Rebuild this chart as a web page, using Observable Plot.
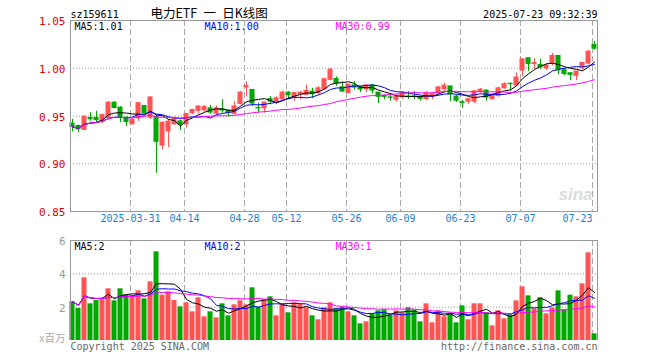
<!DOCTYPE html>
<html><head><meta charset="utf-8">
<script src="https://cdn.jsdelivr.net/npm/d3@7"></script>
<script src="https://cdn.jsdelivr.net/npm/@observablehq/plot@0.6"></script>
<style>
body{margin:0;background:#fff}
#wrap{position:relative;width:660px;height:360px;overflow:hidden;background:#fff}
#price,#vol{position:absolute;left:0}
#price{top:0}
#vol{top:232px}
</style></head><body>
<div id="wrap"><div id="price"></div><div id="vol"></div></div>
<script>
// ---- data ----
const open = [0.942,0.9396,0.9354,0.948,0.948,0.9445,0.948,0.9639,0.9587,0.9483,
0.9413,0.9476,0.9604,0.9483,0.9486,0.919,0.9337,0.9413,0.9444,0.9413,
0.9528,0.9554,0.9558,0.958,0.9525,0.9571,0.9554,0.9522,0.9627,0.980,
0.9773,0.9585,0.958,0.9676,0.964,0.9676,0.9745,0.970,0.9728,0.9721,
0.9756,0.9738,0.978,0.9878,0.9888,0.980,0.9741,0.982,0.9805,0.978,
0.982,0.9745,0.971,0.9695,0.9669,0.970,0.9703,0.9705,0.969,0.9676,
0.9704,0.9738,0.978,0.981,0.9704,0.9644,0.9648,0.965,0.9755,0.9766,
0.9676,0.971,0.979,0.9838,0.982,0.9976,1.0105,1.0045,1.0035,1.0,
1.0045,1.0129,0.998,0.9948,0.992,1.001,1.005,1.0244];
const high = [0.9465,0.9406,0.950,0.9535,0.9549,0.952,0.9653,0.9653,0.9597,0.9493,
0.9469,0.9635,0.9604,0.9701,0.9507,0.9437,0.9465,0.949,0.9458,0.9528,
0.957,0.9605,0.961,0.9612,0.9605,0.967,0.9565,0.965,0.9756,0.986,
0.9773,0.9634,0.9645,0.9704,0.970,0.976,0.9756,0.9745,0.9756,0.9824,
0.979,0.9808,0.9895,1.000,0.991,0.986,0.983,0.986,0.981,0.9826,
0.983,0.9745,0.9715,0.973,0.9721,0.9756,0.9756,0.9756,0.9707,0.9756,
0.9738,0.9808,0.9843,0.981,0.9721,0.9662,0.9686,0.9766,0.9788,0.9773,
0.9735,0.980,0.9847,0.9843,0.995,1.0094,1.0105,1.010,1.0094,1.005,
1.0157,1.0129,0.9997,0.9955,0.9965,1.0055,1.0185,1.028];
const low = [0.9333,0.9326,0.935,0.9444,0.9424,0.942,0.9458,0.9576,0.943,0.9389,
0.9406,0.9444,0.9521,0.9465,0.890,0.9147,0.917,0.9406,0.9347,0.9375,
0.9514,0.952,0.954,0.952,0.9505,0.953,0.9487,0.951,0.9616,0.970,
0.960,0.953,0.953,0.9617,0.962,0.966,0.967,0.9655,0.967,0.9714,
0.968,0.9721,0.9773,0.987,0.981,0.9745,0.973,0.977,0.9745,0.9745,
0.973,0.963,0.967,0.9655,0.9645,0.9675,0.9675,0.967,0.9655,0.966,
0.967,0.9721,0.9756,0.9651,0.964,0.958,0.962,0.963,0.9738,0.9655,
0.9669,0.9696,0.978,0.976,0.981,0.991,0.9965,0.999,0.999,0.9976,
1.0024,0.993,0.992,0.987,0.987,0.9976,1.0035,1.019];
const close = [0.9385,0.9361,0.9493,0.9465,0.9458,0.951,0.9639,0.9583,0.9483,0.9437,
0.9462,0.9635,0.9528,0.9694,0.9229,0.943,0.944,0.9469,0.941,0.9521,
0.9563,0.960,0.9595,0.9536,0.958,0.9557,0.953,0.960,0.9745,0.9815,
0.963,0.958,0.964,0.9651,0.9686,0.9745,0.9717,0.974,0.9745,0.9763,
0.9728,0.979,0.9885,0.9983,0.9839,0.9756,0.9829,0.9798,0.9777,0.982,
0.9766,0.970,0.970,0.969,0.9703,0.9738,0.9697,0.9697,0.968,0.9738,
0.9728,0.980,0.9818,0.9728,0.966,0.9637,0.9676,0.9758,0.9775,0.9693,
0.972,0.979,0.9833,0.9833,0.9903,1.0094,1.0045,1.0055,1.001,1.0024,
1.0129,0.9976,0.994,0.993,0.9965,1.0055,1.0174,1.0205];
const volume = [2.32,1.92,3.76,2.2,2.4,2.44,3.1,2.38,3.1,2.74,
2.7,2.98,2.5,3.52,5.32,2.72,2.92,2.4,2.02,2.26,
1.72,2.56,1.42,1.72,1.36,2.2,1.48,2.14,2.38,2.14,
3.16,2.0,2.44,2.62,1.48,2.18,1.66,2.26,2.18,1.96,
1.48,1.24,1.96,2.26,1.9,2.0,1.72,1.48,1.0,1.12,
1.6,1.78,1.84,1.5,1.78,1.66,1.96,1.84,1.12,2.2,
1.06,1.78,1.42,1.6,1.06,2.08,1.24,2.2,2.2,1.66,
0.88,1.78,1.3,1.54,2.38,3.22,2.68,1.9,2.56,1.6,
1.96,2.98,1.84,2.72,2.62,3.4,5.26,0.4];
const dateTickIndex = [10,19,29,36,46,55,65,75,87];
const dateTickLabels = ["2025-03-31","04-14","04-28","05-12","05-26","06-09","06-23","07-07","07-23"];
const priceTicks = [0.85,0.90,0.95,1.00,1.05];
const priceGrid = [0.90,0.95,1.00];
const volTicks = [2,4,6];
const volGrid = [2,4];
const maPeriods = [5,10,30];
const maColors = ["#000000","#0000ff","#ff00ff"];
const priceLegend = ["MA5:1.01","MA10:1.00","MA30:0.99"];
const volLegend = ["MA5:2","MA10:2","MA30:1"];
const code = "sz159611";
const title = "电力ETF\u2002一\u2002日K线图";
const stamp = "2025-07-23 09:32:39";

// ---- build ----
const UP = "#ff5454", DOWN = "#00a800";
const rows = close.map((c,i)=>({i, o:open[i], h:high[i], l:low[i], c, v:volume[i], up: c >= open[i]}));
const col = d => d.up ? UP : DOWN;
function ma(arr, n){ return arr.map((_,i)=>({i, v:d3.mean(arr.slice(Math.max(0,i-n+1), i+1))})); }
const mono = "DejaVu Sans Mono";
const xDom = [-1/3, 87.5];
const ticks = dateTickIndex.map((i,k)=>({i, label: dateTickLabels[k]}));
const legendDx = [4,134,265];

const priceMA = maPeriods.map(n=>ma(close,n));
const volMA = maPeriods.map(n=>ma(volume,n));

const price = Plot.plot({
  width:660, height:232, marginLeft:70, marginRight:63, marginTop:20, marginBottom:21,
  style:{fontFamily:mono, fontSize:"10px", background:"transparent", overflow:"visible"},
  x:{domain:xDom, axis:null},
  y:{domain:[0.85,1.05], axis:null},
  marks:[
    Plot.ruleY(priceGrid, {stroke:"#999", strokeDasharray:"1,2"}),
    Plot.ruleX(ticks, {x:d=>d.i-1/3, stroke:"#aaa", strokeDasharray:"6,3"}),
    Plot.text(["sina"], {frameAnchor:"bottom-right", textAnchor:"end", lineAnchor:"bottom", dx:-5, dy:-12, fill:"#dcdcdc", fontSize:17, fontStyle:"italic", fontWeight:"bold", fontFamily:"Liberation Sans"}),
    Plot.ruleX(rows, {x:"i", y1:"l", y2:"h", stroke:col}),
    Plot.rect(rows, {x1:d=>d.i-0.42, x2:d=>d.i+0.42, y1:"o", y2:"c", fill:col, insetTop:-0.5, insetBottom:-0.5}),
    ...priceMA.map((s,k)=>Plot.line(s, {x:"i", y:"v", stroke:maColors[k], strokeWidth:1})),
    Plot.frame({stroke:"#999"}),
    Plot.text(priceTicks, {y:d=>d, frameAnchor:"left", textAnchor:"end", dx:-5, dy:1, text:d=>d3.format(".2f")(d), fill:"#e00000", fontSize:11}),
    Plot.text(ticks.slice(0,-1), {x:d=>d.i-1/3, frameAnchor:"bottom", dy:10, text:"label", fill:"#1a7fd4"}),
    Plot.text(ticks.slice(-1), {x:d=>d.i-1/3, frameAnchor:"bottom", textAnchor:"end", dy:10, text:"label", fill:"#1a7fd4"}),
    Plot.text([code], {frameAnchor:"top-left", textAnchor:"start", lineAnchor:"bottom", dy:-3, fill:"#000"}),
    Plot.text([title], {frameAnchor:"top-left", textAnchor:"start", lineAnchor:"bottom", dx:80, dy:-2.5, fill:"#000", fontSize:12.5, fontFamily:"Noto Sans CJK SC"}),
    Plot.text([stamp], {frameAnchor:"top-right", textAnchor:"end", lineAnchor:"bottom", dy:-3, fill:"#000"}),
    ...priceLegend.map((t,k)=>Plot.text([t], {frameAnchor:"top-left", textAnchor:"start", lineAnchor:"bottom", dx:legendDx[k], dy:9, fill:maColors[k]}))
  ]
});
document.getElementById("price").appendChild(price);

const vol = Plot.plot({
  width:660, height:128, marginLeft:70, marginRight:63, marginTop:8, marginBottom:20,
  style:{fontFamily:mono, fontSize:"10px", background:"transparent", overflow:"visible"},
  x:{domain:xDom, axis:null},
  y:{domain:[0,6], axis:null},
  marks:[
    Plot.ruleY(volGrid, {stroke:"#999", strokeDasharray:"1,2"}),
    Plot.ruleX(ticks, {x:d=>d.i-1/3, stroke:"#aaa", strokeDasharray:"6,3"}),
    Plot.rect(rows, {x1:d=>d.i-0.42, x2:d=>d.i+0.42, y1:0, y2:"v", fill:col}),
    ...volMA.map((s,k)=>Plot.line(s, {x:"i", y:"v", stroke:maColors[k], strokeWidth:1})),
    Plot.ruleX(xDom, {stroke:"#999"}),
    Plot.ruleY([6], {stroke:"#999"}),
    Plot.text(volTicks, {y:d=>d, frameAnchor:"left", textAnchor:"end", dx:-5, dy:1, text:d=>String(d), fill:"#999", fontSize:11}),
    Plot.text(["x百万"], {frameAnchor:"bottom-left", textAnchor:"end", dx:-5, dy:1, fill:"#aaa", fontSize:10.5, fontFamily:"Noto Sans CJK SC"}),
    Plot.text(["Copyright 2025 SINA.COM"], {frameAnchor:"bottom-left", textAnchor:"start", lineAnchor:"bottom", dy:9, fill:"#666"}),
    Plot.text(["http://finance.sina.com.cn"], {frameAnchor:"bottom-right", textAnchor:"end", lineAnchor:"bottom", dy:9, fill:"#666"}),
    ...volLegend.map((t,k)=>Plot.text([t], {frameAnchor:"top-left", textAnchor:"start", lineAnchor:"bottom", dx:legendDx[k], dy:9.5, fill:maColors[k]}))
  ]
});
document.getElementById("vol").appendChild(vol);
</script>
</body></html>
